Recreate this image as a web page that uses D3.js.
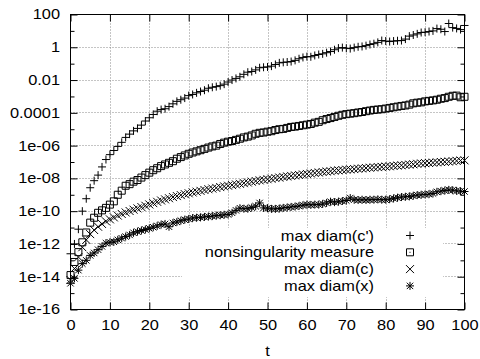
<!DOCTYPE html>
<html><head><meta charset="utf-8">
<script src="https://cdn.jsdelivr.net/npm/d3@7"></script>
<style>html,body{margin:0;padding:0;background:#fff;}svg{display:block;}</style>
</head><body><svg id="c" width="480" height="359"></svg>
<script>
// ---- data (series stored as log10 of the value) ----
const tValues = [0,1,2,3,4,5,6,7,8,9,10,11,12,13,14,15,16,17,18,19,20,21,22,23,24,25,26,27,28,29,30,31,32,33,34,35,36,37,38,39,40,41,42,43,44,45,46,47,48,49,50,51,52,53,54,55,56,57,58,59,60,61,62,63,64,65,66,67,68,69,70,71,72,73,74,75,76,77,78,79,80,81,82,83,84,85,86,87,88,89,90,91,92,93,94,95,96,97,98,99,100];
const log10MaxDiamCprime = [-12.6,-12.0,-11.1,-10.0,-9.24,-8.57,-8.14,-7.8,-7.3,-6.85,
 -6.55,-6.3,-6.05,-5.8,-5.5,-5.3,-5.1,-4.95,-4.75,-4.5,
 -4.3,-4.1,-3.9,-3.8,-3.75,-3.62,-3.45,-3.3,-3.2,-3.1,
 -2.95,-2.88,-2.78,-2.7,-2.62,-2.5,-2.44,-2.4,-2.34,-2.25,
 -2.12,-2.0,-1.9,-1.8,-1.65,-1.52,-1.48,-1.38,-1.25,-1.22,
 -1.2,-1.15,-1.05,-0.95,-0.92,-0.9,-0.87,-0.8,-0.7,-0.62,
 -0.57,-0.58,-0.5,-0.44,-0.4,-0.33,-0.26,-0.15,-0.05,-0.02,
 -0.06,-0.08,-0.02,0.03,0.05,0.1,0.17,0.22,0.3,0.41,
 0.38,0.35,0.38,0.4,0.41,0.5,0.68,0.75,0.82,0.9,
 0.92,0.96,1.0,1.14,1.1,0.96,1.45,1.2,1.15,1.08,
 1.33];
const log10Nonsingularity = [-13.9,-13.1,-12.5,-11.9,-11.3,-10.7,-10.4,-10.1,-9.95,-9.8,
 -9.6,-9.4,-9.0,-8.75,-8.45,-8.35,-8.2,-8.1,-7.95,-7.8,
 -7.65,-7.5,-7.38,-7.25,-7.15,-7.05,-6.95,-6.8,-6.7,-6.6,
 -6.5,-6.42,-6.35,-6.28,-6.2,-6.12,-6.05,-6.0,-5.9,-5.82,
 -5.76,-5.72,-5.65,-5.58,-5.5,-5.45,-5.38,-5.28,-5.22,-5.2,
 -5.15,-5.12,-5.05,-5.0,-4.98,-4.92,-4.86,-4.84,-4.8,-4.76,
 -4.72,-4.68,-4.6,-4.55,-4.45,-4.38,-4.32,-4.25,-4.18,-4.12,
 -4.08,-4.05,-4.02,-3.98,-3.95,-3.9,-3.86,-3.82,-3.8,-3.78,
 -3.74,-3.7,-3.66,-3.62,-3.58,-3.55,-3.5,-3.42,-3.38,-3.36,
 -3.3,-3.27,-3.24,-3.2,-3.14,-3.1,-3.02,-2.96,-2.95,-3.05,
 -3.02];
const log10MaxDiamC = [-14.2,-13.5,-12.8,-12.2,-11.75,-11.4,-11.15,-10.95,-10.78,-10.62,
 -10.5,-10.38,-10.27,-10.17,-10.08,-9.99,-9.91,-9.83,-9.75,-9.67,
 -9.59,-9.51,-9.43,-9.35,-9.28,-9.21,-9.14,-9.08,-9.02,-8.96,
 -8.91,-8.86,-8.81,-8.76,-8.71,-8.66,-8.62,-8.58,-8.53,-8.49,
 -8.45,-8.41,-8.37,-8.33,-8.29,-8.25,-8.2,-8.16,-8.12,-8.09,
 -8.05,-8.02,-7.98,-7.95,-7.91,-7.88,-7.85,-7.82,-7.79,-7.76,
 -7.73,-7.7,-7.67,-7.64,-7.61,-7.58,-7.56,-7.53,-7.51,-7.49,
 -7.47,-7.45,-7.43,-7.41,-7.39,-7.37,-7.35,-7.33,-7.31,-7.3,
 -7.28,-7.26,-7.24,-7.22,-7.2,-7.18,-7.16,-7.14,-7.11,-7.09,
 -7.07,-7.06,-7.04,-7.02,-7.0,-6.99,-6.97,-6.95,-6.93,-6.91,
 -6.9];
const log10MaxDiamX = [-14.4,-14.1,-13.6,-13.2,-13.0,-12.7,-12.55,-12.35,-12.15,-11.95,
 -11.9,-11.87,-11.75,-11.65,-11.55,-11.45,-11.32,-11.25,-11.18,-11.12,
 -11.05,-10.98,-10.9,-10.82,-10.78,-10.95,-10.72,-10.66,-10.58,-10.52,
 -10.48,-10.42,-10.4,-10.38,-10.35,-10.33,-10.3,-10.27,-10.25,-10.22,
 -10.2,-10.1,-9.95,-9.82,-9.85,-9.85,-9.78,-9.7,-9.5,-9.8,
 -9.82,-9.86,-9.86,-9.84,-9.8,-9.78,-9.74,-9.72,-9.68,-9.64,
 -9.6,-9.62,-9.6,-9.6,-9.56,-9.5,-9.42,-9.45,-9.42,-9.38,
 -9.35,-9.2,-9.3,-9.32,-9.3,-9.32,-9.3,-9.3,-9.28,-9.3,
 -9.3,-9.27,-9.22,-9.18,-9.14,-9.12,-9.1,-9.06,-9.02,-9.0,
 -8.98,-8.96,-8.92,-8.82,-8.78,-8.74,-8.7,-8.72,-8.76,-8.78,
 -8.8];
const seriesNames = ["max diam(c')", "nonsingularity measure", "max diam(c)", "max diam(x)"];
const xTickValues = [0,10,20,30,40,50,60,70,80,90,100];
const yTickValues = [1e2,1,1e-2,1e-4,1e-6,1e-8,1e-10,1e-12,1e-14,1e-16];
const yTickLabels = ["100","1","0.01","0.0001","1e-06","1e-08","1e-10","1e-12","1e-14","1e-16"];
const yMinorValues = [1e1,1e-1,1e-3,1e-5,1e-7,1e-9,1e-11,1e-13,1e-15];
const xLabel = "t";

// ---- layout ----
const L = 70.5, R = 464.5, T = 14.5, B = 309.5;
const FONT = "'Liberation Sans', Arial, Helvetica, sans-serif";
const FS = 14, SX = 1.17;

const svg = d3.select("#c");
svg.append("rect").attr("width",480).attr("height",359).attr("fill","#fff");

const x = d3.scaleLinear().domain([0,100]).range([L,R]);
const y = d3.scaleLog().domain([1e-16,1e2]).range([B,T]);

// grid
const grid = svg.append("g").attr("stroke","#8a8a8a").attr("stroke-width",1).attr("stroke-dasharray","1,2");
xTickValues.filter(v => v>0 && v<100).forEach(v=>{
  const px = Math.round(x(v))+0.5;
  grid.append("line").attr("x1",px).attr("x2",px).attr("y1",T).attr("y2",B);
});
yTickValues.filter(v => v<1e2 && v>1e-16).forEach(v=>{
  const py = Math.round(y(v)-0.5)+0.5;
  grid.append("line").attr("x1",L).attr("x2",R).attr("y1",py).attr("y2",py);
});

// legend background (hides grid)
svg.append("rect").attr("x",182).attr("y",228).attr("width",261).attr("height",69).attr("fill","#fff");

// markers
const h = 4, hs = 3.5;
const shapes = [
  `M${-h},0H${h}M0,${-h}V${h}`,
  `M${-hs},${-hs}H${hs}V${hs}H${-hs}Z`,
  `M${-h},${-h}L${h},${h}M${-h},${h}L${h},${-h}`,
  `M${-h},0H${h}M0,${-h}V${h}M${-h*0.8},${-h*0.8}L${h*0.8},${h*0.8}M${-h*0.8},${h*0.8}L${h*0.8},${-h*0.8}`
];
const allSeries = [log10MaxDiamCprime, log10Nonsingularity, log10MaxDiamC, log10MaxDiamX];
const plot = svg.append("g");
allSeries.forEach((s,i)=>{
  const pts = s.map((e,k)=>({t:tValues[k], v:Math.pow(10,e)})).filter(d=>d.t!==undefined);
  plot.append("g").selectAll("path").data(pts).join("path")
    .attr("transform", d=>`translate(${x(d.t)},${y(d.v)})`)
    .attr("d", shapes[i]).attr("fill","none").attr("stroke","#000").attr("stroke-width",1);
});

// axes with inward ticks
function styleText(sel){
  sel.selectAll("text").each(function(){
    const t = d3.select(this);
    const xx = +t.attr("x")||0;
    t.attr("x",0).attr("transform",`translate(${xx},0) scale(${SX},1)`);
  }).attr("font-family",FONT).attr("font-size",FS).attr("fill","#000");
  sel.select(".domain").remove();
  sel.selectAll("line").attr("stroke","#000");
}
const gl = svg.append("g").attr("transform",`translate(${L},0)`)
  .call(d3.axisLeft(y).tickValues(yTickValues).tickFormat((d,i)=>yTickLabels[i]).tickSizeInner(-7).tickSizeOuter(0).tickPadding(10.5));
styleText(gl);
const glm = svg.append("g").attr("transform",`translate(${L},0)`)
  .call(d3.axisLeft(y).tickValues(yMinorValues).tickFormat("").tickSizeInner(-4).tickSizeOuter(0));
styleText(glm);
const gr = svg.append("g").attr("transform",`translate(${R},0)`)
  .call(d3.axisRight(y).tickValues(yTickValues).tickFormat("").tickSizeInner(-7).tickSizeOuter(0));
styleText(gr);
const grm = svg.append("g").attr("transform",`translate(${R},0)`)
  .call(d3.axisRight(y).tickValues(yMinorValues).tickFormat("").tickSizeInner(-4).tickSizeOuter(0));
styleText(grm);
const gb = svg.append("g").attr("transform",`translate(0,${B})`)
  .call(d3.axisBottom(x).tickValues(xTickValues).tickFormat(d3.format("d")).tickSizeInner(-7).tickSizeOuter(0).tickPadding(11));
styleText(gb);
const gt = svg.append("g").attr("transform",`translate(0,${T})`)
  .call(d3.axisTop(x).tickValues(xTickValues).tickFormat("").tickSizeInner(-7).tickSizeOuter(0));
styleText(gt);

// frame
svg.append("rect").attr("x",L).attr("y",T).attr("width",R-L).attr("height",B-T)
  .attr("fill","none").attr("stroke","#000").attr("stroke-width",1);

// x label
svg.append("text").attr("transform",`translate(${(L+R)/2},356) scale(${SX},1)`)
  .attr("text-anchor","middle").attr("font-family",FONT).attr("font-size",FS).text(xLabel);

// legend
const legX = 374, symX = 410, legY0 = 235.5, legDy = 16.8;
seriesNames.forEach((name,i)=>{
  const yy = legY0 + i*legDy;
  svg.append("text").attr("transform",`translate(${legX},${yy+5}) scale(${SX},1)`)
    .attr("text-anchor","end").attr("font-family",FONT).attr("font-size",FS).text(name);
  svg.append("path").attr("transform",`translate(${symX},${yy})`).attr("d",shapes[i])
    .attr("fill","none").attr("stroke","#000").attr("stroke-width",1);
  if(i===1) svg.append("rect").attr("x",symX-0.5).attr("y",yy-0.5).attr("width",1).attr("height",1).attr("fill","#000");
});
</script></body></html>
